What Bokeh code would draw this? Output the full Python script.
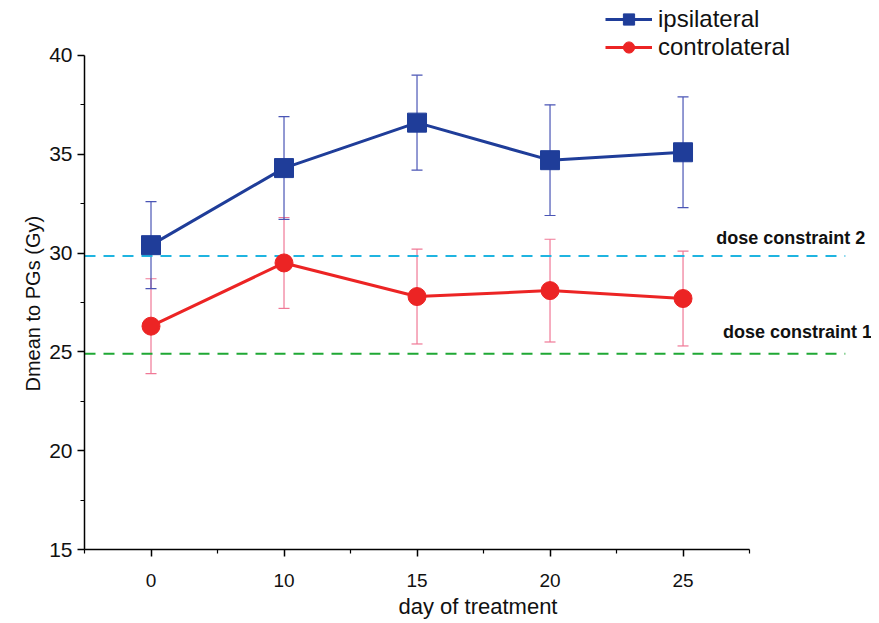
from bokeh.plotting import figure
from bokeh.models import (ColumnDataSource, Whisker, TeeHead, FixedTicker,
                          Legend, LegendItem, Label, Title)
from bokeh.embed import file_html
from bokeh.resources import INLINE

# ---- data ----
days = ["0", "10", "15", "20", "25"]
ipsi_mean = [30.4, 34.3, 36.6, 34.7, 35.1]
ipsi_upper = [32.6, 36.9, 39.0, 37.5, 37.9]
ipsi_lower = [28.2, 31.7, 34.2, 31.9, 32.3]
contra_mean = [26.3, 29.5, 27.8, 28.1, 27.7]
contra_upper = [28.7, 31.8, 30.2, 30.7, 30.1]
contra_lower = [23.9, 27.2, 25.4, 25.5, 25.3]
constraint_levels = [24.9, 29.85]
constraint_labels = ["dose constraint 1", "dose constraint 2"]
y_ticks = [15, 20, 25, 30, 35, 40]
y_minor = [17.5, 22.5, 27.5, 32.5, 37.5]

idx = list(range(len(days)))
x_minor = [i - 0.5 for i in range(len(days) + 1)]

BLUE = "#1f3d99"
RED = "#ec2424"
PINK = "#f07896"
WBLUE = "#4a55b5"
CYAN = "#1fb4e0"
GREEN = "#1fa834"
FONT = "Liberation Sans"

src_i = ColumnDataSource(dict(x=idx, y=ipsi_mean, up=ipsi_upper, lo=ipsi_lower))
src_c = ColumnDataSource(dict(x=idx, y=contra_mean, up=contra_upper, lo=contra_lower))

p = figure(width=871, height=621, x_range=(-0.5, 5.417), y_range=(15, 42.78),
           output_backend="svg", toolbar_location=None,
           min_border_left=84, min_border_right=0, min_border_top=0,
           min_border_bottom=72)
p.outline_line_color = None
p.xgrid.visible = False
p.ygrid.visible = False
p.background_fill_color = "white"

# axes
p.xaxis.bounds = (-0.5, len(days) - 0.5)
p.yaxis.bounds = (y_ticks[0], y_ticks[-1])
p.xaxis.ticker = FixedTicker(ticks=idx, minor_ticks=x_minor)
p.yaxis.ticker = FixedTicker(ticks=y_ticks, minor_ticks=y_minor)
p.xaxis.major_label_overrides = {i: d for i, d in zip(idx, days)}
for ax in (p.xaxis, p.yaxis):
    ax.axis_line_color = "black"
    ax.axis_line_width = 1.5
    ax.major_tick_line_color = "black"
    ax.major_tick_line_width = 1.5
    ax.minor_tick_line_color = "black"
    ax.minor_tick_line_width = 1.2
    ax.major_tick_in = 0
    ax.major_tick_out = 7
    ax.minor_tick_in = 0
    ax.minor_tick_out = 4
    ax.major_label_text_font = FONT
    ax.major_label_text_color = "#111111"
    ax.axis_label_text_font = FONT
    ax.axis_label_text_font_style = "normal"
    ax.axis_label_text_color = "#111111"
p.yaxis.major_label_text_font_size = "21px"
p.yaxis.major_label_standoff = 5
p.xaxis.major_label_text_font_size = "19px"
p.xaxis.major_label_standoff = 17
p.xaxis.axis_label = "day of treatment"
p.xaxis.axis_label_text_font_size = "22px"
p.xaxis.axis_label_standoff = 4

# y-axis title, placed along the axis (which spans 15..40 only)
p.add_layout(Title(text="Dmean to PGs (Gy)", align="left", offset=158,
                   vertical_align="middle", text_font=FONT,
                   text_font_size="20px", text_font_style="normal",
                   text_color="#111111", standoff=4), "left")

# constraint lines
for lvl, col in zip(constraint_levels, [GREEN, CYAN]):
    p.segment(x0=[-0.5], y0=[lvl], x1=[5.22], y1=[lvl], line_color=col,
              line_width=2, line_dash="11 8")

# error bars
p.add_layout(Whisker(source=src_c, base="x", upper="up", lower="lo",
                     line_color=PINK, line_width=1.2,
                     upper_head=TeeHead(size=11, line_color=PINK, line_width=1.2),
                     lower_head=TeeHead(size=11, line_color=PINK, line_width=1.2)))
p.add_layout(Whisker(source=src_i, base="x", upper="up", lower="lo",
                     line_color=WBLUE, line_width=1.2,
                     upper_head=TeeHead(size=11, line_color=WBLUE, line_width=1.2),
                     lower_head=TeeHead(size=11, line_color=WBLUE, line_width=1.2)))

# series
li = p.line("x", "y", source=src_i, line_color=BLUE, line_width=3)
si = p.scatter("x", "y", source=src_i, marker="square", size=19,
               fill_color=BLUE, line_color=BLUE)
lc = p.line("x", "y", source=src_c, line_color=RED, line_width=3)
sc = p.scatter("x", "y", source=src_c, marker="circle", size=18,
               fill_color=RED, line_color=RED)

legend = Legend(items=[LegendItem(label="ipsilateral", renderers=[li, si]),
                       LegendItem(label="controlateral", renderers=[lc, sc])],
                location=(521, 488), orientation="vertical",
                glyph_width=47, glyph_height=28, label_height=28,
                label_standoff=6, spacing=-1, padding=0, margin=0,
                border_line_color=None, background_fill_alpha=0,
                label_text_font=FONT, label_text_font_size="24px",
                label_text_color="#111111")
p.add_layout(legend, "center")

# constraint texts
p.add_layout(Label(x=4.30, y=constraint_levels[0] + 1.1, text=constraint_labels[0],
                   text_font=FONT, text_font_style="bold", text_font_size="18px",
                   text_baseline="middle", text_align="left", text_color="#111111"))
p.add_layout(Label(x=4.25, y=constraint_levels[1] + 0.9, text=constraint_labels[1],
                   text_font=FONT, text_font_style="bold", text_font_size="18px",
                   text_baseline="middle", text_align="left", text_color="#111111"))

open("out.html", "w").write(file_html(p, INLINE))
